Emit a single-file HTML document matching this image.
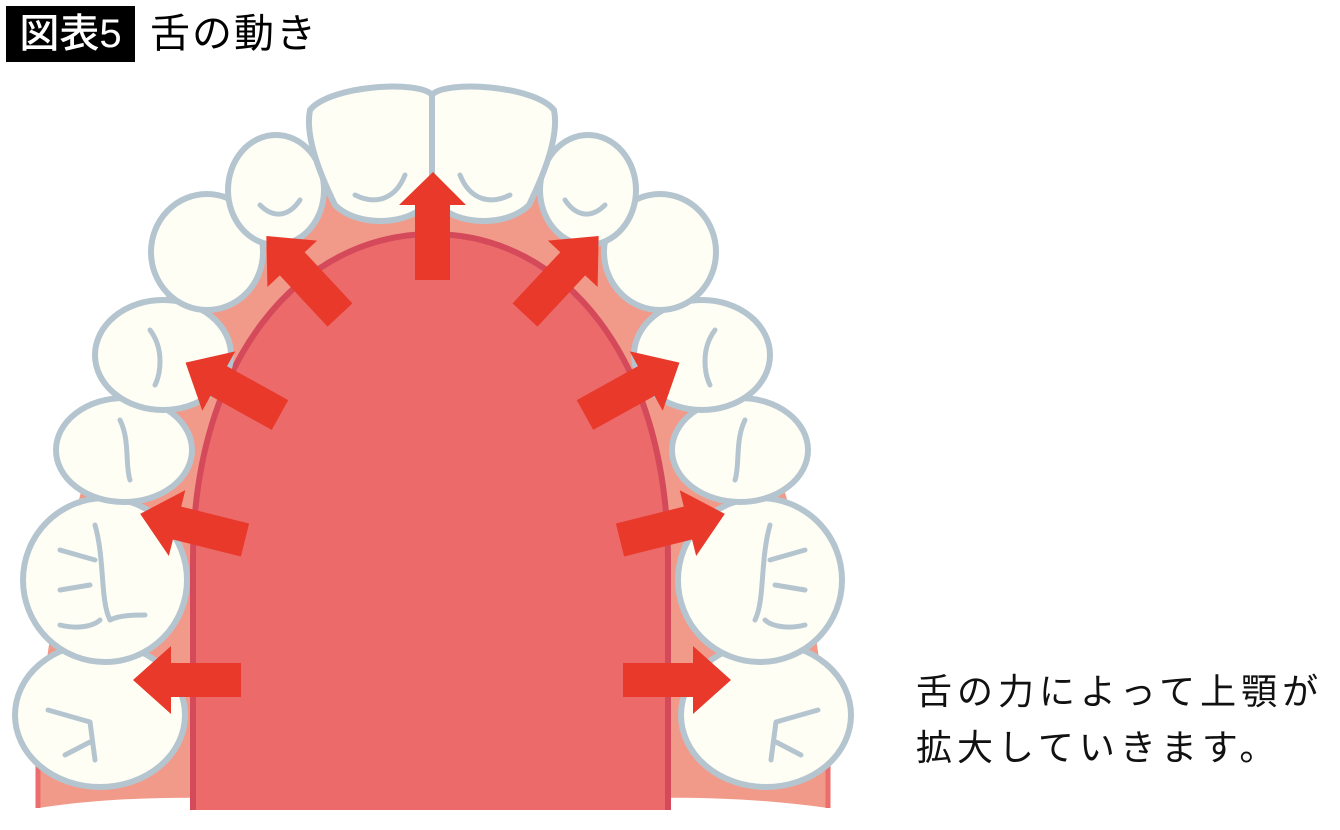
<!DOCTYPE html>
<html><head><meta charset="utf-8"><style>
body{margin:0;width:1340px;height:830px;background:#fff;overflow:hidden;position:relative;font-family:"Liberation Sans","Noto Sans CJK JP",sans-serif}
.box{position:absolute;left:6px;top:6px;width:129px;height:56px;background:#000;color:#fff;font-size:40px;line-height:56px;text-align:center;font-weight:500}
.ttl{position:absolute;left:150px;top:6px;font-size:40px;line-height:56px;color:#000;letter-spacing:2px}
.txt{position:absolute;left:916px;top:664px;font-size:36px;line-height:56px;letter-spacing:5px;color:#111}
svg{position:absolute;left:0;top:0}
</style></head><body>
<svg width="1340" height="830" viewBox="0 0 1340 830">
<path d="M38,808 L38,740 C60,480 150,150 433,135 C716,150 806,480 828,740 L828,808 C700,790 600,800 433,805 C260,800 160,790 38,808 Z" fill="#f29a8a"/>
<path d="M38,808 L38,740 M828,740 L828,808" stroke="#ec6d6d" stroke-width="5"/>
<path d="M193,810 L193,560 C193,360 300,234 432,234 C565,234 668,360 668,560 L668,810 Z" fill="#ec6a6a"/>
<path d="M193,810 L193,560 C193,360 300,234 432,234 C565,234 668,360 668,560 L668,810" fill="none" stroke="#d44a5a" stroke-width="6"/>
<g fill="#fffef5" stroke="#b5c5cf" stroke-width="6">
<ellipse cx="100" cy="715" rx="85" ry="72"/><ellipse cx="766" cy="715" rx="85" ry="72"/>
<ellipse cx="105" cy="580" rx="82" ry="82"/><ellipse cx="760" cy="580" rx="82" ry="82"/>
<ellipse cx="124" cy="450" rx="68" ry="52"/><ellipse cx="740" cy="450" rx="68" ry="52"/>
<ellipse cx="163" cy="355" rx="68" ry="55"/><ellipse cx="702" cy="355" rx="68" ry="55"/>
<ellipse cx="207" cy="252" rx="56" ry="58"/><ellipse cx="660" cy="252" rx="56" ry="58"/>
<ellipse cx="276" cy="190" rx="48" ry="55"/><ellipse cx="588" cy="190" rx="48" ry="55"/>
<path d="M310,110 C330,85 420,80 432,95 L432,195 C420,225 360,230 335,205 C318,170 305,135 310,110Z"/>
<path d="M554,110 C534,85 444,80 432,95 L432,195 C444,225 504,230 529,205 C546,170 559,135 554,110Z"/>
</g>
<g fill="none" stroke="#b5c5cf" stroke-width="5" stroke-linecap="round">
<path d="M355,195 C375,205 395,200 405,175"/><path d="M510,195 C490,205 470,200 460,175"/>
<path d="M260,205 C275,220 290,215 300,200"/><path d="M605,205 C590,220 575,215 565,200"/>
<path d="M60,550 L95,560 M60,590 L90,585 M95,525 C105,560 100,600 110,620 M60,625 C80,630 95,625 100,620 M110,620 C120,615 135,615 145,615"/>
<path d="M805,550 L770,560 M805,590 L775,585 M770,525 C760,560 765,600 755,620 M805,625 C785,630 770,625 765,620"/>
<path d="M48,710 L90,722 M90,722 L95,760 M65,755 L90,742"/><path d="M818,710 L776,722 M776,722 L771,760 M801,755 L776,742"/>
<path d="M120,420 C130,440 125,465 130,480"/><path d="M745,420 C735,440 740,465 735,480"/>
<path d="M150,330 C165,350 160,375 155,385"/><path d="M715,330 C700,350 705,375 710,385"/>
</g>
<g fill="#e8392a">
<polygon points="415,280 450,280 450,205 466,205 433,172 399,205 415,205"/>
<g transform="translate(340,315) rotate(-133)"><polygon points="0,-17 70,-17 70,-34 108,0 70,34 70,17 0,17"/></g>
<g transform="translate(280,415) rotate(-151)"><polygon points="0,-17 70,-17 70,-34 108,0 70,34 70,17 0,17"/></g>
<g transform="translate(245,540) rotate(-166)"><polygon points="0,-17 70,-17 70,-34 108,0 70,34 70,17 0,17"/></g>
<g transform="translate(241,680) rotate(180)"><polygon points="0,-17 70,-17 70,-34 108,0 70,34 70,17 0,17"/></g>
<g transform="translate(525,315) rotate(-47)"><polygon points="0,-17 70,-17 70,-34 108,0 70,34 70,17 0,17"/></g>
<g transform="translate(585,415) rotate(-29)"><polygon points="0,-17 70,-17 70,-34 108,0 70,34 70,17 0,17"/></g>
<g transform="translate(620,540) rotate(-14)"><polygon points="0,-17 70,-17 70,-34 108,0 70,34 70,17 0,17"/></g>
<g transform="translate(623,680)"><polygon points="0,-17 70,-17 70,-34 108,0 70,34 70,17 0,17"/></g>
</g>
</svg>
<div class="box">図表5</div>
<div class="ttl">舌の動き</div>
<div class="txt">舌の力によって上顎が<br>拡大していきます。</div>
</body></html>
